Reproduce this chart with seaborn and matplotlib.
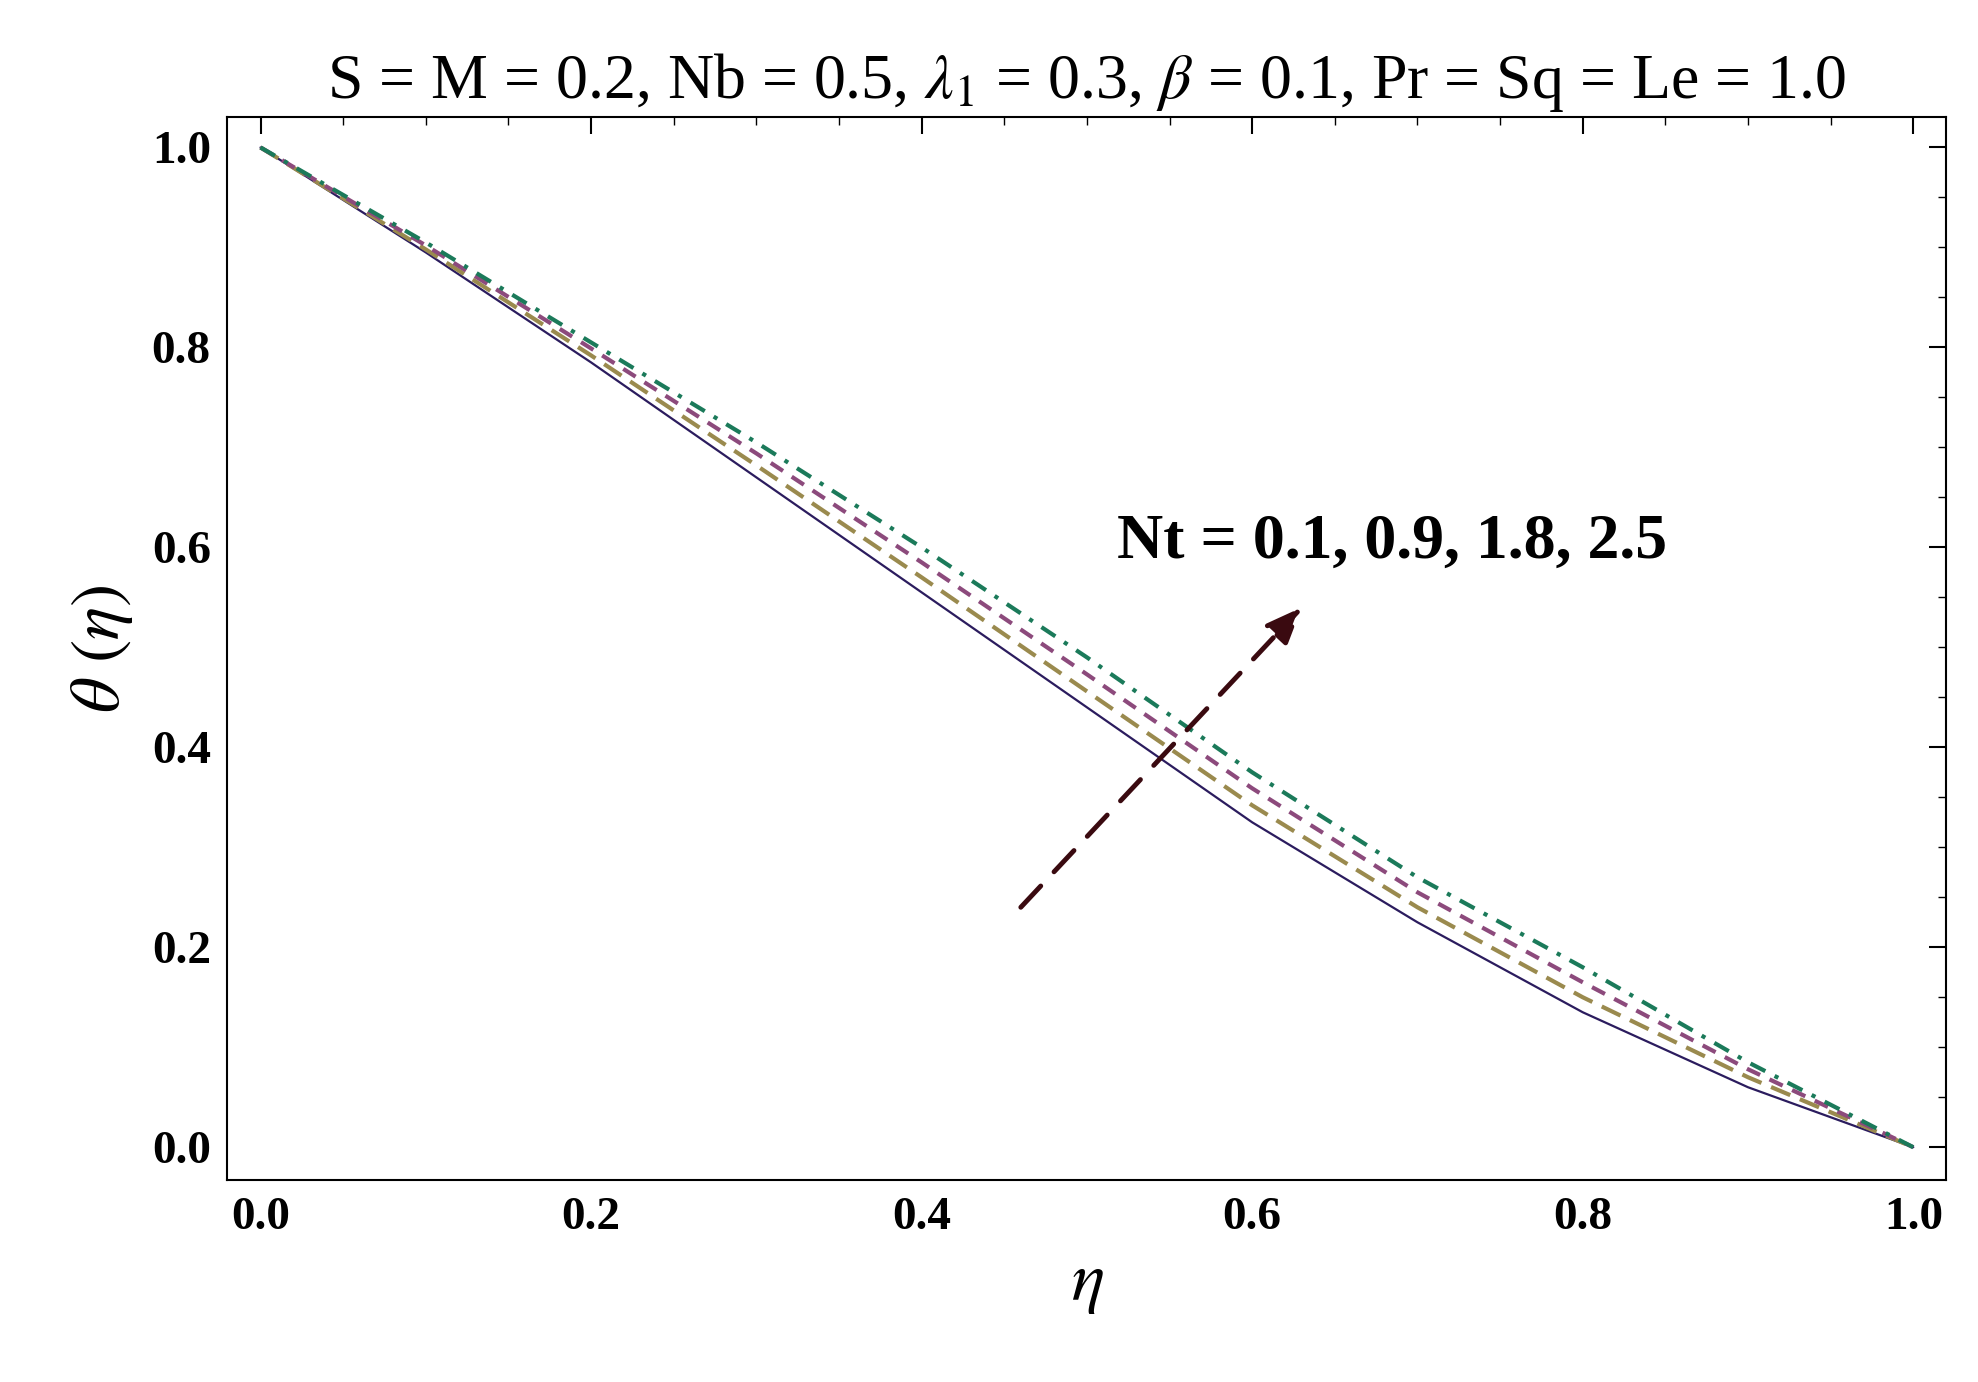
import numpy as np
import pandas as pd
import matplotlib
matplotlib.use("Agg")
import matplotlib.pyplot as plt
import seaborn as sns
from matplotlib.ticker import MultipleLocator

eta = [0.0, 0.1, 0.2, 0.3, 0.4, 0.5, 0.6, 0.7, 0.8, 0.9, 1.0]
theta_nt01 = [1.0, 0.895, 0.785, 0.670, 0.555, 0.440, 0.325, 0.225, 0.135, 0.060, 0.0]
theta_nt09 = [1.0, 0.898, 0.792, 0.682, 0.570, 0.456, 0.342, 0.240, 0.150, 0.070, 0.0]
theta_nt18 = [1.0, 0.902, 0.799, 0.694, 0.585, 0.473, 0.359, 0.255, 0.165, 0.078, 0.0]
theta_nt25 = [1.0, 0.905, 0.805, 0.705, 0.600, 0.490, 0.375, 0.270, 0.180, 0.085, 0.0]

sns.set_style("white")
plt.rcParams["font.family"] = ["Liberation Serif", "DejaVu Serif"]
plt.rcParams["mathtext.fontset"] = "stix"
plt.rcParams["text.color"] = "black"
plt.rcParams["xtick.color"] = "black"
plt.rcParams["ytick.color"] = "black"
plt.rcParams["axes.labelcolor"] = "black"

fig = plt.figure(figsize=(19.78, 13.82), dpi=100)
ax = fig.add_axes([0.115, 0.146, 0.869, 0.769])

styles = [
    (theta_nt01, "#2b1c5e", "-", 1.6),
    (theta_nt09, "#9a8a4e", (0, (5, 2.5)), 3),
    (theta_nt18, "#8c4a7c", (0, (3.5, 2.5)), 3),
    (theta_nt25, "#1b7a5a", (0, (4, 2.5, 1, 2.5)), 3),
]
for vals, col, ls, lw in styles:
    sns.lineplot(x=eta, y=vals, ax=ax, color=col, linestyle=ls, linewidth=lw)

ax.annotate("", xy=(0.63, 0.54), xytext=(0.46, 0.24),
            arrowprops=dict(arrowstyle="-|>,head_length=2.2,head_width=0.9",
                            color="#3a0a10", lw=3.5, linestyle=(0, (6, 4)),
                            shrinkA=0, shrinkB=0))
ax.text(0.518, 0.59, "Nt = 0.1, 0.9, 1.8, 2.5", fontsize=46, fontweight="bold")

ax.set_xlim(-0.02, 1.02)
ax.set_ylim(-0.033, 1.03)
ax.xaxis.set_major_locator(MultipleLocator(0.2))
ax.yaxis.set_major_locator(MultipleLocator(0.2))
ax.xaxis.set_minor_locator(MultipleLocator(0.05))
ax.yaxis.set_minor_locator(MultipleLocator(0.05))
ax.xaxis.set_major_formatter(matplotlib.ticker.FormatStrFormatter("%.1f"))
ax.yaxis.set_major_formatter(matplotlib.ticker.FormatStrFormatter("%.1f"))
ax.tick_params(which="both", direction="in", top=True, right=True, color="black")
ax.tick_params(which="major", length=12, width=1.5, labelsize=34, pad=12)
ax.tick_params(which="minor", length=6, width=1)
for lab in ax.get_xticklabels() + ax.get_yticklabels():
    lab.set_fontweight("bold")
for sp in ax.spines.values():
    sp.set_color("black")
    sp.set_linewidth(1.5)

ax.set_xlabel(r"$\eta$", fontsize=50, labelpad=10)
ax.set_ylabel(r"$\theta\ (\eta)$", fontsize=50, labelpad=12)
ax.set_title(r"S = M = 0.2, Nb = 0.5, $\lambda_1$ = 0.3, $\beta$ = 0.1, Pr = Sq = Le = 1.0",
             fontsize=46, pad=14)

fig.savefig("out.png", dpi=100)
